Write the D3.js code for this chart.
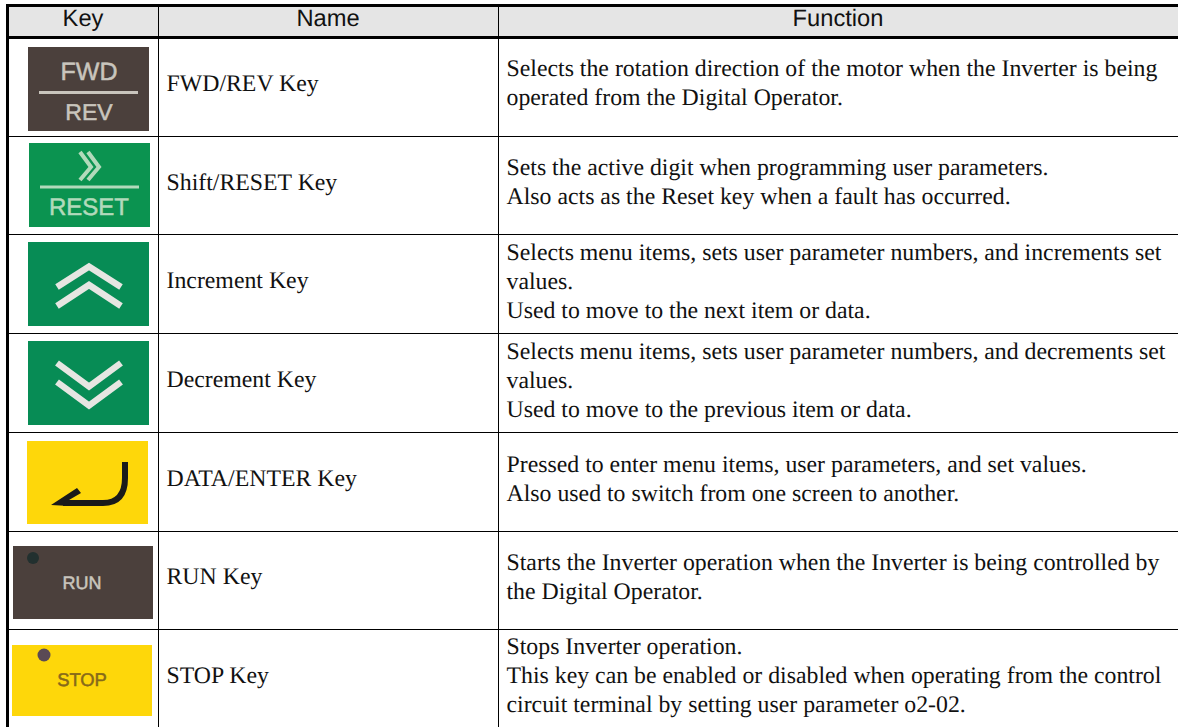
<!DOCTYPE html>
<html>
<head>
<meta charset="utf-8">
<script src="https://cdn.jsdelivr.net/npm/d3@7"></script>
<style>
  html, body { margin: 0; padding: 0; background: #fff; }
  svg { display: block; text-rendering: geometricPrecision; }
  .head { font-family: "Liberation Sans", Arial, sans-serif; font-size: 23.7px; fill: #111; text-anchor: middle; }
  .cell { font-family: "Liberation Serif", "Times New Roman", serif; font-size: 23.8px; fill: #111; }
</style>
</head>
<body>
<svg id="chart" width="1178" height="727"></svg>
<script>
// Table content
const headers = ["Key", "Name", "Function"];
const keyNames = ["FWD/REV Key", "Shift/RESET Key", "Increment Key", "Decrement Key", "DATA/ENTER Key", "RUN Key", "STOP Key"];
const functionLines = [
  ["Selects the rotation direction of the motor when the Inverter is being", "operated from the Digital Operator."],
  ["Sets the active digit when programming user parameters.", "Also acts as the Reset key when a fault has occurred."],
  ["Selects menu items, sets user parameter numbers, and increments set", "values.", "Used to move to the next item or data."],
  ["Selects menu items, sets user parameter numbers, and decrements set", "values.", "Used to move to the previous item or data."],
  ["Pressed to enter menu items, user parameters, and set values.", "Also used to switch from one screen to another."],
  ["Starts the Inverter operation when the Inverter is being controlled by", "the Digital Operator."],
  ["Stops Inverter operation.", "This key can be enabled or disabled when operating from the control", "circuit terminal by setting user parameter o2-02."]
];
const keyColors = ["#4b403c", "#0b9350", "#078c55", "#078c55", "#fed70a", "#4b403c", "#fed70a"];
const keyInk = ["#c9c5bd", "#b2dabb", "#e6e6e2", "#e6e6e2", "#1a1a1a", "#c9c5bd", "#86691a"];

// Layout
const keyBoxes = [[28, 47, 121, 84], [29, 143, 121, 84], [28, 242, 121, 84], [28, 341, 121, 84], [27, 441, 121, 83], [13, 546, 140, 73], [12, 645, 140, 71]];
const rowLines = [136, 234, 333, 432, 531, 629];
const colLines = [158.5, 498.5];
const headerCentres = [83, 328, 838];
const nameBaselines = [91, 190, 288, 387, 486, 584, 683];
const firstBaselines = [76, 175, 260, 359, 472, 570, 654];
const lineGap = 29;

const svg = d3.select("#chart");

// Header background
svg.append("rect").attr("x", 8).attr("y", 6).attr("width", 1170).attr("height", 31).attr("fill", "#e5e5e5");

// Key pictures
const keys = svg.selectAll("g.key").data(keyBoxes).join("g")
  .attr("class", "key")
  .attr("transform", d => `translate(${d[0]},${d[1]})`);

keys.append("rect")
  .attr("width", d => d[2])
  .attr("height", d => d[3])
  .attr("fill", (d, i) => keyColors[i]);

function keyText(i, text, x, y, size) {
  keys.filter((d, j) => j === i).append("text")
    .attr("x", x).attr("y", y)
    .attr("text-anchor", "middle")
    .attr("font-family", "'Liberation Sans', Arial, sans-serif")
    .attr("font-size", size)
    .attr("fill", keyInk[i])
    .attr("stroke", keyInk[i])
    .attr("stroke-width", 0.5)
    .text(text);
}
function keyPath(i, d, width) {
  keys.filter((b, j) => j === i).append("path")
    .attr("d", d)
    .attr("fill", "none")
    .attr("stroke", keyInk[i])
    .attr("stroke-width", width);
}

// FWD/REV
keyText(0, "FWD", 61, 33, 25);
keyPath(0, "M11,45.5H110", 3);
keyText(0, "REV", 61, 73, 23);

// Shift/RESET
keyPath(1, "M51,9L62,24L51,37M59,9L70,24L59,37", 4);
keyPath(1, "M11,44H110", 3);
keyText(1, "RESET", 60, 72, 24);

// Increment / Decrement chevrons
keyPath(2, "M29,45L61,24.5L93,45M29,64L61,43L93,64", 6.5);
keyPath(3, "M29,22L61,45.5L93,22M29,41L61,64.5L93,41", 6.5);

// DATA/ENTER arrow
keyPath(4, "M98,21V37Q98,62 76,62H36", 6);
keys.filter((d, j) => j === 4).append("path")
  .attr("d", "M24,64L50,47L54,52L42,59V65Z")
  .attr("fill", keyInk[4]);

// RUN
keys.filter((d, j) => j === 5).append("circle")
  .attr("cx", 20).attr("cy", 12).attr("r", 6).attr("fill", "#22302f");
keyText(5, "RUN", 69, 43, 18);

// STOP
keys.filter((d, j) => j === 6).append("circle")
  .attr("cx", 32).attr("cy", 10).attr("r", 6.5).attr("fill", "#5a4a55");
keyText(6, "STOP", 70, 41, 18.4);

// Grid lines
svg.selectAll("line.row").data(rowLines).join("line")
  .attr("class", "row")
  .attr("x1", 8).attr("x2", 1178)
  .attr("y1", d => d + 0.5).attr("y2", d => d + 0.5)
  .attr("stroke", "#000").attr("stroke-width", 1);

svg.selectAll("line.col").data(colLines).join("line")
  .attr("class", "col")
  .attr("x1", d => d).attr("x2", d => d)
  .attr("y1", 6).attr("y2", 727)
  .attr("stroke", "#000").attr("stroke-width", 1);

// Frame
svg.append("rect").attr("x", 6).attr("y", 4).attr("width", 1172).attr("height", 3).attr("fill", "#000");
svg.append("rect").attr("x", 6).attr("y", 36).attr("width", 1172).attr("height", 3).attr("fill", "#000");
svg.append("rect").attr("x", 6).attr("y", 4).attr("width", 3).attr("height", 723).attr("fill", "#000");

// Header text
svg.selectAll("text.head").data(headers).join("text")
  .attr("class", "head")
  .attr("x", (d, i) => headerCentres[i])
  .attr("y", 26)
  .text(d => d);

// Name column
svg.selectAll("text.name").data(keyNames).join("text")
  .attr("class", "cell name")
  .attr("x", 166.5)
  .attr("y", (d, i) => nameBaselines[i])
  .text(d => d);

// Function column
svg.selectAll("g.fn").data(functionLines).join("g")
  .attr("class", "fn")
  .each(function (lines, i) {
    d3.select(this).selectAll("text").data(lines).join("text")
      .attr("class", "cell")
      .attr("x", 506.5)
      .attr("y", (d, k) => firstBaselines[i] + k * lineGap)
      .text(d => d);
  });
</script>
</body>
</html>
